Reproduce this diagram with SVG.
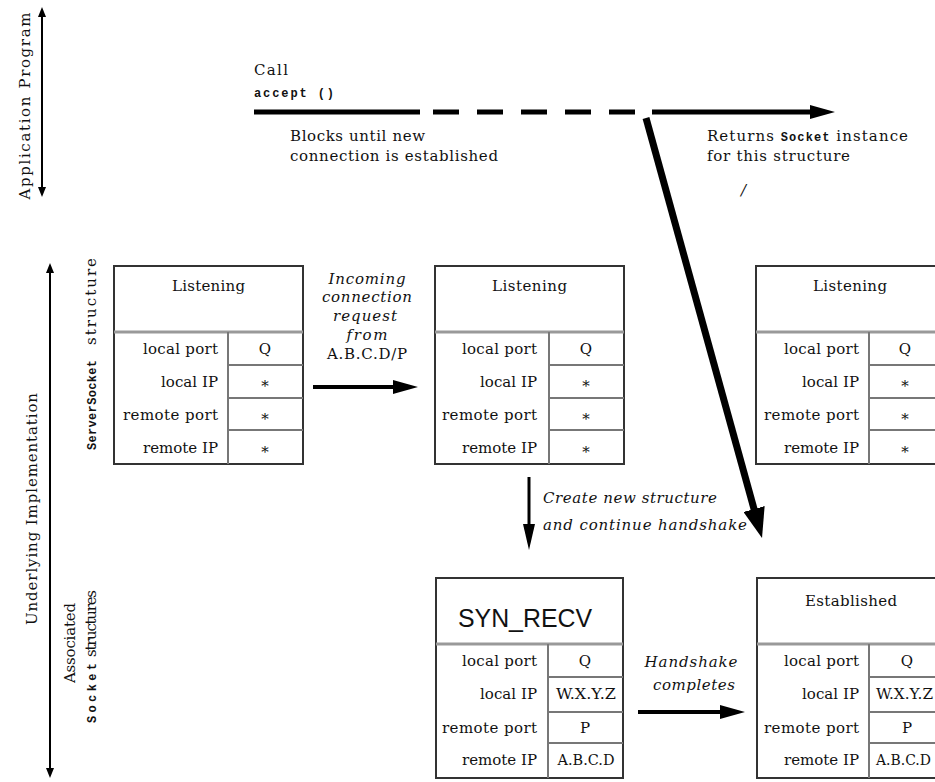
<svg xmlns="http://www.w3.org/2000/svg" width="935" height="782" viewBox="0 0 935 782">
<style>
text{font-family:"DejaVu Serif","Liberation Serif",serif;font-size:15px;fill:#111}
.it{font-style:italic}
.mono{font-family:"Liberation Mono","DejaVu Sans Mono",monospace;font-weight:bold;font-size:12px}
.big{font-family:"Liberation Sans",Arial,sans-serif;font-size:26px}
.frame{fill:#fff;stroke:#333;stroke-width:2}
.hdr{stroke:#999;stroke-width:3}
.grid{stroke:#777;stroke-width:2}
.r{text-anchor:end}
.c{text-anchor:middle}
.arr{stroke:#000;fill:none}
</style>
<defs>
<marker id="ah" viewBox="0 0 25 14" refX="1" refY="7" markerWidth="25" markerHeight="14" orient="auto" markerUnits="userSpaceOnUse"><path d="M0,0 L25,7 L0,14 z" fill="#000"/></marker>
<marker id="ahd" viewBox="0 0 26 12" refX="1" refY="6" markerWidth="26" markerHeight="12" orient="auto" markerUnits="userSpaceOnUse"><path d="M0,0 L26,6 L0,12 z" fill="#000"/></marker>
<marker id="ahb" viewBox="0 0 30 22" refX="1" refY="11" markerWidth="30" markerHeight="22" orient="auto" markerUnits="userSpaceOnUse"><path d="M0,0 L30,11 L0,22 z" fill="#000"/></marker>
<marker id="ahs" viewBox="0 0 10 8" refX="1" refY="4" markerWidth="10" markerHeight="8" orient="auto-start-reverse" markerUnits="userSpaceOnUse"><path d="M0,0 L10,4 L0,8 z" fill="#000"/></marker>
</defs>

<g id="side-labels">
<text transform="translate(30,106) rotate(-90)" class="c" font-size="16" textLength="187" lengthAdjust="spacing">Application Program</text>
<text transform="translate(37,509) rotate(-90)" class="c" font-size="16" textLength="232" lengthAdjust="spacing">Underlying Implementation</text>
<text transform="translate(96,450) rotate(-90)" class="mono" font-size="13" textLength="90" lengthAdjust="spacing">ServerSocket</text>
<text transform="translate(96,345) rotate(-90)" textLength="87" lengthAdjust="spacing">structure</text>
<text transform="translate(75,683) rotate(-90)" font-size="13" textLength="80" lengthAdjust="spacing">Associated</text>
<text transform="translate(96,723) rotate(-90)" class="mono" font-size="13" textLength="60" lengthAdjust="spacing">Socket</text>
<text transform="translate(96,657) rotate(-90)" textLength="67" lengthAdjust="spacing">structures</text>
</g>

<g id="top-labels">
<text x="254" y="75" textLength="34" lengthAdjust="spacing">Call</text>
<text x="254" y="97" class="mono" textLength="80" lengthAdjust="spacing">accept ()</text>
<text x="290" y="141" textLength="135" lengthAdjust="spacing">Blocks until new</text>
<text x="290" y="161" textLength="208" lengthAdjust="spacing">connection is established</text>
<text x="707" y="141" textLength="201" lengthAdjust="spacing">Returns <tspan class="mono">Socket</tspan> instance</text>
<text x="707" y="161" textLength="143" lengthAdjust="spacing">for this structure</text>
<text x="741" y="195" class="it" font-size="16">/</text>
</g>

<g id="box1">
<rect class="frame" x="114" y="266" width="189" height="198"/>
<line class="hdr" x1="114" y1="332" x2="303" y2="332"/>
<line class="grid" x1="228" y1="332" x2="228" y2="464"/>
<line class="grid" x1="228" y1="365" x2="303" y2="365"/>
<line class="grid" x1="228" y1="398" x2="303" y2="398"/>
<line class="grid" x1="228" y1="430" x2="303" y2="430"/>
<text x="208.5" y="291" class="c" textLength="73" lengthAdjust="spacing">Listening</text>
<text x="218" y="354" class="r" textLength="75" lengthAdjust="spacing">local port</text>
<text x="218" y="387" class="r" textLength="57" lengthAdjust="spacing">local IP</text>
<text x="218" y="420" class="r" textLength="95" lengthAdjust="spacing">remote port</text>
<text x="218" y="453" class="r" textLength="75" lengthAdjust="spacing">remote IP</text>
<text x="265" y="354" class="c">Q</text>
<text x="265" y="391" class="c" font-size="13">*</text>
<text x="265" y="424" class="c" font-size="13">*</text>
<text x="265" y="457" class="c" font-size="13">*</text>
</g>

<g id="box2">
<rect class="frame" x="435" y="266" width="189" height="198"/>
<line class="hdr" x1="435" y1="332" x2="624" y2="332"/>
<line class="grid" x1="549" y1="332" x2="549" y2="464"/>
<line class="grid" x1="549" y1="365" x2="624" y2="365"/>
<line class="grid" x1="549" y1="398" x2="624" y2="398"/>
<line class="grid" x1="549" y1="430" x2="624" y2="430"/>
<text x="529.5" y="291" class="c" textLength="75" lengthAdjust="spacing">Listening</text>
<text x="537" y="354" class="r" textLength="75" lengthAdjust="spacing">local port</text>
<text x="537" y="387" class="r" textLength="57" lengthAdjust="spacing">local IP</text>
<text x="537" y="420" class="r" textLength="95" lengthAdjust="spacing">remote port</text>
<text x="537" y="453" class="r" textLength="75" lengthAdjust="spacing">remote IP</text>
<text x="586" y="354" class="c">Q</text>
<text x="586" y="391" class="c" font-size="13">*</text>
<text x="586" y="424" class="c" font-size="13">*</text>
<text x="586" y="457" class="c" font-size="13">*</text>
</g>

<g id="box3">
<rect class="frame" x="756" y="266" width="189" height="198"/>
<line class="hdr" x1="756" y1="332" x2="945" y2="332"/>
<line class="grid" x1="869" y1="332" x2="869" y2="464"/>
<line class="grid" x1="869" y1="365" x2="945" y2="365"/>
<line class="grid" x1="869" y1="398" x2="945" y2="398"/>
<line class="grid" x1="869" y1="430" x2="945" y2="430"/>
<text x="850" y="291" class="c" textLength="74" lengthAdjust="spacing">Listening</text>
<text x="859" y="354" class="r" textLength="75" lengthAdjust="spacing">local port</text>
<text x="859" y="387" class="r" textLength="57" lengthAdjust="spacing">local IP</text>
<text x="859" y="420" class="r" textLength="95" lengthAdjust="spacing">remote port</text>
<text x="859" y="453" class="r" textLength="75" lengthAdjust="spacing">remote IP</text>
<text x="905" y="354" class="c">Q</text>
<text x="905" y="391" class="c" font-size="13">*</text>
<text x="905" y="424" class="c" font-size="13">*</text>
<text x="905" y="457" class="c" font-size="13">*</text>
</g>

<g id="box4">
<rect class="frame" x="436" y="578" width="187" height="200"/>
<line class="hdr" x1="436" y1="644" x2="623" y2="644"/>
<line class="grid" x1="548" y1="644" x2="548" y2="778"/>
<line class="grid" x1="548" y1="677" x2="623" y2="677"/>
<line class="grid" x1="548" y1="712" x2="623" y2="712"/>
<line class="grid" x1="548" y1="743" x2="623" y2="743"/>
<text x="525" y="627" class="big c" textLength="134" lengthAdjust="spacingAndGlyphs">SYN_RECV</text>
<text x="537" y="666" class="r" textLength="75" lengthAdjust="spacing">local port</text>
<text x="537" y="699" class="r" textLength="57" lengthAdjust="spacing">local IP</text>
<text x="537" y="733" class="r" textLength="95" lengthAdjust="spacing">remote port</text>
<text x="537" y="765" class="r" textLength="75" lengthAdjust="spacing">remote IP</text>
<text x="585" y="666" class="c">Q</text>
<text x="586" y="699" class="c" font-size="13" textLength="60" lengthAdjust="spacingAndGlyphs">W.X.Y.Z</text>
<text x="585" y="733" class="c">P</text>
<text x="586" y="765" class="c" font-size="13" textLength="57" lengthAdjust="spacingAndGlyphs">A.B.C.D</text>
</g>

<g id="box5">
<rect class="frame" x="757" y="578" width="189" height="200"/>
<line class="hdr" x1="757" y1="644" x2="946" y2="644"/>
<line class="grid" x1="869" y1="644" x2="869" y2="778"/>
<line class="grid" x1="869" y1="677" x2="946" y2="677"/>
<line class="grid" x1="869" y1="712" x2="946" y2="712"/>
<line class="grid" x1="869" y1="743" x2="946" y2="743"/>
<text x="851" y="606" class="c" textLength="92" lengthAdjust="spacing">Established</text>
<text x="859" y="666" class="r" textLength="75" lengthAdjust="spacing">local port</text>
<text x="859" y="699" class="r" textLength="57" lengthAdjust="spacing">local IP</text>
<text x="859" y="733" class="r" textLength="95" lengthAdjust="spacing">remote port</text>
<text x="859" y="765" class="r" textLength="75" lengthAdjust="spacing">remote IP</text>
<text x="907" y="666" class="c">Q</text>
<text x="876" y="699" font-size="13" textLength="57" lengthAdjust="spacingAndGlyphs">W.X.Y.Z</text>
<text x="907" y="733" class="c">P</text>
<text x="876" y="765" font-size="13" textLength="55" lengthAdjust="spacingAndGlyphs">A.B.C.D</text>
</g>

<g id="edge-labels">
<text x="367" y="284" class="c it" textLength="77" lengthAdjust="spacing">Incoming</text>
<text x="367" y="302" class="c it" textLength="90" lengthAdjust="spacing">connection</text>
<text x="365" y="321" class="c it" textLength="64" lengthAdjust="spacing">request</text>
<text x="367" y="340" class="c it" textLength="41" lengthAdjust="spacing">from</text>
<text x="367" y="359" class="c" textLength="80" lengthAdjust="spacing">A.B.C.D/P</text>
<text x="543" y="503" class="it" textLength="174" lengthAdjust="spacing">Create new structure</text>
<text x="543" y="530" class="it" textLength="204" lengthAdjust="spacing">and continue handshake</text>
<text x="691" y="667" class="c it" textLength="93" lengthAdjust="spacing">Handshake</text>
<text x="694" y="690" class="c it" textLength="82" lengthAdjust="spacing">completes</text>
</g>

<g id="connectors">
<line class="arr" x1="42" y1="16" x2="42" y2="188" stroke-width="2" marker-start="url(#ahs)" marker-end="url(#ahs)"/>
<line class="arr" x1="50" y1="272" x2="50" y2="769" stroke-width="2" marker-start="url(#ahs)" marker-end="url(#ahs)"/>
<line class="arr" x1="254" y1="112" x2="420" y2="112" stroke-width="5"/>
<line class="arr" x1="433" y1="112" x2="635" y2="112" stroke-width="5" stroke-dasharray="26 18"/>
<line class="arr" x1="652" y1="112" x2="811" y2="112" stroke-width="5" marker-end="url(#ah)"/>
<line class="arr" x1="646" y1="118" x2="754.3" y2="510" stroke-width="7" marker-end="url(#ahb)"/>
<line class="arr" x1="313" y1="387" x2="394" y2="387" stroke-width="4" marker-end="url(#ah)"/>
<line class="arr" x1="529" y1="477" x2="529" y2="525" stroke-width="3" marker-end="url(#ahd)"/>
<line class="arr" x1="638" y1="712" x2="721" y2="712" stroke-width="4" marker-end="url(#ah)"/>
</g>
</svg>
